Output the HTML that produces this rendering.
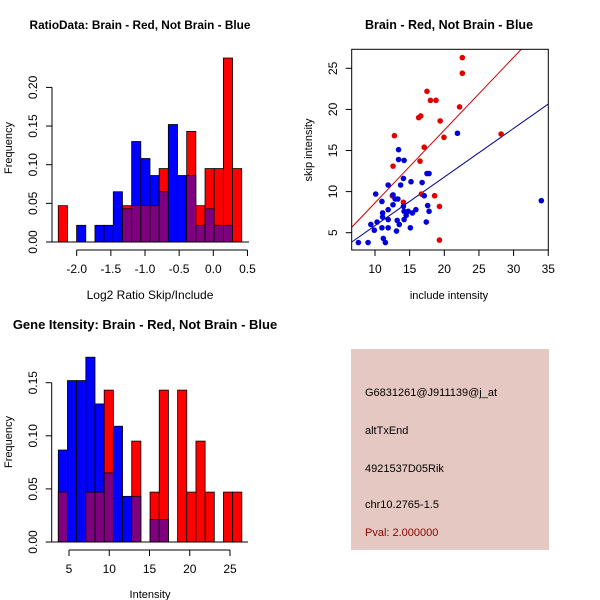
<!DOCTYPE html>
<html><head><meta charset="utf-8"><style>
html,body{margin:0;padding:0;background:#fff;}
svg{display:block;font-family:"Liberation Sans",sans-serif;}
</style></head><body>
<svg id="root" width="600" height="600" viewBox="0 0 600 600" xmlns="http://www.w3.org/2000/svg">
<rect x="0" y="0" width="600" height="600" fill="#fff"/>
<g id="p1"></g>
<g id="p2"></g>
<g id="p3"></g>
<g id="p4">
<rect x="351" y="349" width="198" height="201" fill="#E6C8C2"/>
<text x="365" y="396" font-size="11" fill="#000">G6831261@J911139@j_at</text>
<text x="365" y="434" font-size="11" fill="#000">altTxEnd</text>
<text x="365" y="472" font-size="11" fill="#000">4921537D05Rik</text>
<text x="365" y="508" font-size="11" fill="#000">chr10.2765-1.5</text>
<text x="365" y="536" font-size="11" fill="#8B0000">Pval: 2.000000</text>
</g>
</svg>
<script>
// ---- Ratio histogram data ----
const ratioStart = -2.27;
const ratioWidth = 0.1343;
const ratioRed  = [0.047,0,0,0,0,0,0,0.047,0.047,0.047,0.047,0.095,0,0,0.143,0.047,0.095,0.095,0.238,0.095];
const ratioBlue = [0,0,0.0216,0,0.0216,0.0216,0.065,0.043,0.13,0.108,0.086,0.065,0.152,0.086,0.086,0.0216,0.043,0.0216,0.0216,0];
const ratioXTicks = [-2.0,-1.5,-1.0,-0.5,0.0,0.5];
const ratioXLabels = ["-2.0","-1.5","-1.0","-0.5","0.0","0.5"];
const ratioYTicks = [0,0.05,0.10,0.15,0.20];
const ratioYLabels = ["0.00","0.05","0.10","0.15","0.20"];

// ---- Scatter data ----
const redX = [22.6,22.6,17.5,18.0,18.8,22.2,16.6,16.3,19.4,12.8,28.2,19.95,17.1,12.6,16.5,12.5,16.7,18.6,14.1,19.3,19.3];
const redY = [26.3,24.4,22.2,21.1,21.1,20.3,19.2,19.0,18.6,16.8,17.0,16.6,15.4,13.1,13.7,9.5,9.7,9.5,8.7,8.2,4.1];
const blueX = [7.6,9.0,11.5,11.2,9.4,9.9,10.3,10.1,11.0,11.1,11.1,11.0,11.9,11.9,11.9,11.9,12.6,12.6,12.9,13.3,13.1,13.2,13.5,13.4,13.4,14.2,13.7,14.1,14.1,14.2,14.2,14.5,14.8,15.4,15.1,15.2,15.9,16.8,17.1,17.4,17.5,17.8,17.6,17.8,21.9,34.0];
const blueY = [3.8,3.8,3.8,4.3,6.0,5.3,6.3,9.7,8.8,7.4,6.9,5.6,5.6,6.6,7.8,10.8,9.6,8.4,9.1,9.1,5.2,6.5,6.0,15.1,13.9,13.8,10.8,11.6,8.2,7.6,6.6,7.1,7.6,7.4,5.6,11.2,7.8,11.1,9.5,6.3,12.2,12.2,8.3,7.6,17.1,8.9];
const redFit = [-0.22, 0.885];   // intercept, slope
const blueFit = [-0.07, 0.592];
const scXTicks = [10,15,20,25,30,35];
const scYTicks = [5,10,15,20,25];

// ---- Intensity histogram data ----
const intStart = 3.67;
const intWidth = 1.14;
const intRed  = [0.047,0,0,0.047,0.047,0.143,0,0,0.095,0,0.047,0.143,0,0.143,0.047,0.095,0.047,0,0.047,0.047];
const intBlue = [0.0866,0.152,0.152,0.174,0.13,0.065,0.109,0.043,0.043,0,0.0213,0.0213,0,0,0,0,0,0,0,0];
const intXTicks = [5,10,15,20,25];
const intYTicks = [0,0.05,0.10,0.15];
const intYLabels = ["0.00","0.05","0.10","0.15"];

const NS = "http://www.w3.org/2000/svg";
function mk(parent, tag, attrs, txt){
  const e = document.createElementNS(NS, tag);
  for (const k in attrs) e.setAttribute(k, attrs[k]);
  if (txt !== undefined) e.textContent = txt;
  parent.appendChild(e);
  return e;
}
const PURPLE = "#7F007F";

function drawHist(g, start, width, red, blue, sx, sy, base) {
  for (let i = 0; i < red.length; i++) {
    const x0 = sx(start + i*width), x1 = sx(start + (i+1)*width);
    const r = red[i], b = blue[i];
    const hi = Math.max(r,b), lo = Math.min(r,b);
    if (hi > 0) {
      const el = mk(g, "rect", {x:x0, y:sy(hi), width:x1-x0, height:sy(0)-sy(hi), fill: r>=b?"#FF0000":"#0000FF", stroke:"#000", "stroke-width":0.8});
      
      
    }
    if (lo > 0) {
      const el = mk(g, "rect", {x:x0, y:sy(lo), width:x1-x0, height:sy(0)-sy(lo), fill:PURPLE, stroke:"#000", "stroke-width":0.8});
      
      
    }
  }
  const bl = mk(g, "line", {x1:base[0], x2:base[1], y1:sy(0), y2:sy(0), stroke:"#000"});
  
  
}

function xAxis(g, ticks, labels, sx, yLine, yLab) {
  const ax = mk(g, "line", {x1:sx(ticks[0]), x2:sx(ticks[ticks.length-1]), y1:yLine, y2:yLine, stroke:"#000"});
  
  
  ticks.forEach((t,i)=>{
    mk(g, "line", {x1:sx(t), x2:sx(t), y1:yLine, y2:yLine+6, stroke:"#000"});
    const tl = mk(g, "text", {x:sx(t), y:yLab, "font-size":12, "text-anchor":"middle"}, labels[i]);
    
    
  });
}
function yAxis(g, ticks, labels, sy, xLine, xLab) {
  const ax = mk(g, "line", {x1:xLine, x2:xLine, y1:sy(ticks[0]), y2:sy(ticks[ticks.length-1]), stroke:"#000"});
  
  
  ticks.forEach((t,i)=>{
    mk(g, "line", {x1:xLine-6, x2:xLine, y1:sy(t), y2:sy(t), stroke:"#000"});
    const tl = mk(g, "text", {x:xLab, y:sy(t), "font-size":12, "text-anchor":"middle", transform:`rotate(-90 ${xLab} ${sy(t)})`}, labels[i]);
    
    
  });
}
function label(g, x, y, txt, name, opts) {
  const a = Object.assign({x:x, y:y, "font-size":12, "text-anchor":"middle"}, opts||{});
  const t = mk(g, "text", a, txt);
  
  
  return t;
}

// Panel 1
(function(){
  const g = document.getElementById("p1");
  const sx = v => 76.7 + (v + 2.0) * 68.3;
  const sy = v => 242 - v * 773;
  drawHist(g, ratioStart, ratioWidth, ratioRed, ratioBlue, sx, sy, [52, 249]);
  xAxis(g, ratioXTicks, ratioXLabels, sx, 250, 273);
  yAxis(g, ratioYTicks, ratioYLabels, sy, 52, 37);
  label(g, 140, 29, "RatioData: Brain - Red, Not Brain - Blue", "chart-title", {"font-weight":"bold","font-size":11.8});
  label(g, 150, 299, "Log2 Ratio Skip/Include", "x-axis-title");
  label(g, 12, 148, "Frequency", "y-axis-title", {transform:"rotate(-90 12 148)","font-size":11});
})();

// Panel 2
(function(){
  const g = document.getElementById("p2");
  const sx = v => 375 + (v - 10) * 6.93;
  const sy = v => 232.7 - (v - 5) * 8.22;
  const clip = mk(g, "clipPath", {id:"scClip"});
  mk(clip, "rect", {x:351.7, y:49.3, width:196.6, height:200.7});
  const lines = mk(g, "g", {"clip-path":"url(#scClip)"});
  [[redFit,"#CC0000","red-fit-line"],[blueFit,"#00008B","blue-fit-line"]].forEach(([f,c,n])=>{
    const x0 = 6.6, x1 = 36;
    const l = mk(lines, "line", {x1:sx(x0), y1:sy(f[0]+f[1]*x0), x2:sx(x1), y2:sy(f[0]+f[1]*x1), stroke:c, "stroke-width":1});
    
    
  });
  redX.forEach((x,i)=>{
    const c = mk(g, "circle", {cx:sx(x), cy:sy(redY[i]), r:2.8, fill:"#E00000"});
    
    
  });
  blueX.forEach((x,i)=>{
    const c = mk(g, "circle", {cx:sx(x), cy:sy(blueY[i]), r:2.8, fill:"#0000D8"});
    
    
  });
  const box = mk(g, "rect", {x:351.7, y:49.3, width:196.6, height:200.7, fill:"none", stroke:"#000"});
  
  
  scXTicks.forEach(t=>{
    mk(g, "line", {x1:sx(t), x2:sx(t), y1:250, y2:256, stroke:"#000"});
    label(g, sx(t), 273, String(t), "x-tick-label");
  });
  scYTicks.forEach(t=>{
    mk(g, "line", {x1:345.7, x2:351.7, y1:sy(t), y2:sy(t), stroke:"#000"});
    label(g, 337, sy(t), String(t), "y-tick-label", {transform:`rotate(-90 337 ${sy(t)})`});
  });
  label(g, 449, 29, "Brain - Red, Not Brain - Blue", "chart-title", {"font-weight":"bold","font-size":12.5});
  label(g, 449, 299, "include intensity", "x-axis-title", {"font-size":11});
  label(g, 312, 150, "skip intensity", "y-axis-title", {transform:"rotate(-90 312 150)","font-size":11});
})();

// Panel 3
(function(){
  const g = document.getElementById("p3");
  const sx = v => 69 + (v - 5) * 8.05;
  const sy = v => 542 - v * 1062;
  drawHist(g, intStart, intWidth, intRed, intBlue, sx, sy, [51.7, 248]);
  xAxis(g, intXTicks, intXTicks.map(String), sx, 550, 573);
  yAxis(g, intYTicks, intYLabels, sy, 51.7, 37);
  label(g, 145, 329, "Gene Itensity: Brain - Red, Not Brain - Blue", "chart-title", {"font-weight":"bold","font-size":13});
  label(g, 150, 598, "Intensity", "x-axis-title", {"font-size":11});
  label(g, 12, 442, "Frequency", "y-axis-title", {transform:"rotate(-90 12 442)","font-size":11});
})();
</script>
</body></html>
